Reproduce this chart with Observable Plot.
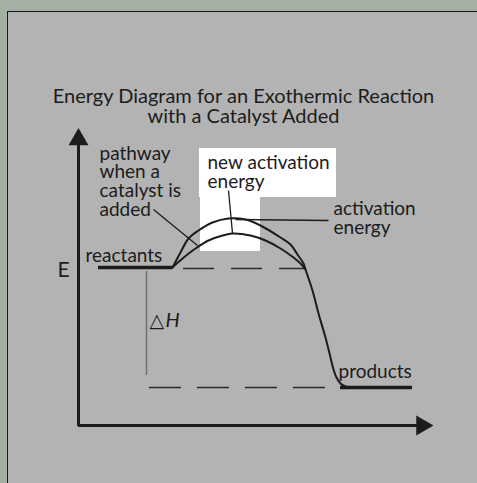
<!DOCTYPE html>
<html><head><meta charset="utf-8">
<script src="https://cdn.jsdelivr.net/npm/d3@7"></script>
<script src="https://cdn.jsdelivr.net/npm/@observablehq/plot@0.6"></script>
<style>
html,body{margin:0;padding:0;background:#a3b0a3;width:477px;height:483px;overflow:hidden}
#panel{position:absolute;left:7px;top:11px;width:470px;height:472px;background:#b3b3b3;border-top:1.5px solid #1a1a1a;border-left:1.5px solid #1a1a1a;box-sizing:border-box}
#chart{position:absolute;left:0;top:0}
</style></head><body><div id="panel"></div><div id="chart"></div>
<script>
// Reaction progress (x) and energy (E) in arbitrary diagram units
const uncatProgress = [94,102,110,120,134,150,167,182,202,212,219,225,227,234,240,247,252,255,258,262,267,275];
const uncatEnergy   = [158,173,187,195,203,207,206,200,188,181,171,162,156,135,112,88,68,56,48,42,39,38];
const catProgress = [94,104,117,130,144,154,172,187,202,215,222,227];
const catEnergy   = [158,167,177,185,190,192,190,185,177,168,162,156];

const reactantLevel = 158;
const productLevel = 38;
const reactantSpan = [20, 94];
const productSpan = [262, 334];
const reactantDashSpan = [105, 227];
const productDashSpan = [71, 267];
const deltaH = {x: 68, from: 154, to: 50};

const titleLines = "Energy Diagram for an Exothermic Reaction\nwith a Catalyst Added";
const labelTexts = ["pathway\nwhen a\ncatalyst is\nadded", "new activation\nenergy", "activation\nenergy", "reactants", "products"];
const labelX = [21, 129, 255, 7, 260];
const labelE = [210, 238, 192, 164, 48];
const axisLabel = "E";

// pointer lines [x1,e1,x2,e2]
const pointers = [[75,216,119,180],[150,235,154,192],[157,206,250,205]];
// white label boxes [x1,x2,e1,e2]
const boxes = [[121,258,228,277],[122,182,174,229]];

const uncat = uncatProgress.map((x,i)=>({x, e: uncatEnergy[i]}));
const cat = catProgress.map((x,i)=>({x, e: catEnergy[i]}));
const labels = labelTexts.map((t,i)=>({t, x: labelX[i], e: labelE[i]}));
const font = "Lato, 'Open Sans', sans-serif";
const ink = "#1c1c1c";

const chart = Plot.plot({
  width: 477, height: 483,
  x: {domain: [0, 355], range: [78, 433], axis: null},
  y: {domain: [0, 297], range: [425, 128], axis: null},
  style: {background: "transparent", overflow: "visible"},
  marks: [
    Plot.rect(boxes, {x1: d=>d[0], x2: d=>d[1], y1: d=>d[2], y2: d=>d[3], fill: "white"}),
    // axes
    Plot.line([{x:0,e:284},{x:0,e:0},{x:342,e:0}], {x:"x", y:"e", stroke: ink, strokeWidth: 3, strokeLinejoin: "miter"}),
    Plot.dot([{x:0,e:286}], {x:"x", y:"e", symbol:"triangle", r:7.4, fill: ink, stroke: "none"}),
    Plot.dot([{x:343.5,e:0}], {x:"x", y:"e", symbol:"triangle", r:7.4, fill: ink, stroke: "none", rotate: 90}),
    // dashed levels
    Plot.ruleY([reactantLevel-1], {x1: reactantDashSpan[0], x2: reactantDashSpan[1], stroke: "#2a2a2a", strokeWidth: 1.5, strokeDasharray: "31,17"}),
    Plot.ruleY([productLevel], {x1: productDashSpan[0], x2: productDashSpan[1], stroke: "#2a2a2a", strokeWidth: 1.5, strokeDasharray: "32,16"}),
    // delta H
    Plot.ruleX([deltaH.x], {y1: deltaH.from, y2: deltaH.to, stroke: "#707070", strokeWidth: 1.5}),
    // levels
    Plot.ruleY([reactantLevel], {x1: reactantSpan[0], x2: reactantSpan[1], stroke: ink, strokeWidth: 3.5}),
    Plot.ruleY([productLevel], {x1: productSpan[0], x2: productSpan[1], stroke: ink, strokeWidth: 3.5}),
    // curves
    Plot.line(uncat, {x:"x", y:"e", curve:"catmull-rom", stroke: ink, strokeWidth: 2}),
    Plot.line(cat, {x:"x", y:"e", curve:"catmull-rom", stroke: ink, strokeWidth: 2}),
    // pointers
    Plot.link(pointers, {x1:d=>d[0], y1:d=>d[1], x2:d=>d[2], y2:d=>d[3], stroke: ink, strokeWidth: 1.3}),
    // labels
    Plot.text(labels, {x:"x", y:"e", text:"t", textAnchor:"start", lineAnchor:"bottom", lineHeight: 0.98, fontSize: 19, fontFamily: font, fill: ink}),
    Plot.text([axisLabel], {x: -21, y: 149, textAnchor:"start", lineAnchor:"bottom", fontSize: 21, fontFamily: font, fill: ink}),
    Plot.text(["△"], {x: 71, y: 99, textAnchor:"start", lineAnchor:"bottom", fontSize: 19, fontFamily: "'DejaVu Sans', sans-serif", fill: ink}),
    Plot.text(["H"], {x: 87, y: 99, textAnchor:"start", lineAnchor:"bottom", fontSize: 20, fontFamily: font, fontStyle: "italic", fill: ink}),
    // title
    Plot.text([titleLines], {x: 165, y: 303, textAnchor:"middle", lineAnchor:"bottom", lineHeight: 1.0, fontSize: 20, fontFamily: font, fill: ink})
  ]
});
document.getElementById("chart").appendChild(chart);
</script></body></html>
